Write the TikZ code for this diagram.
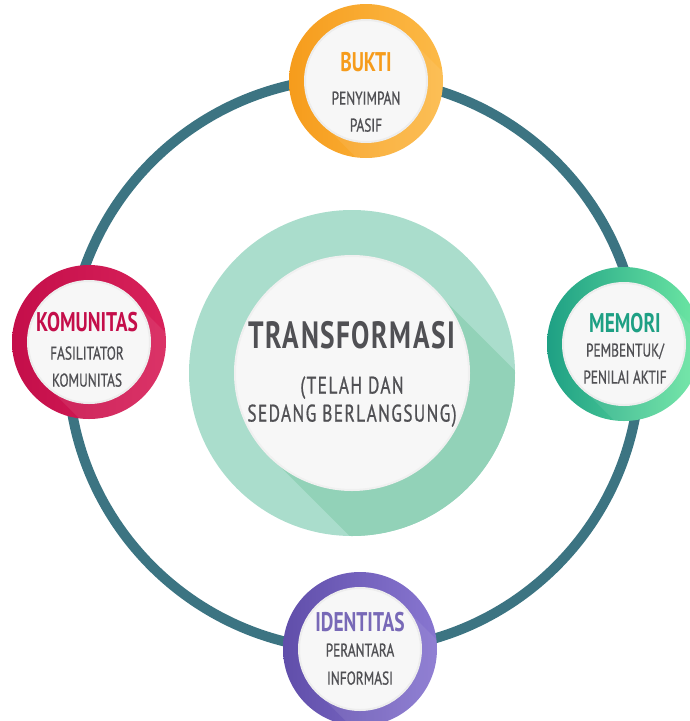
\documentclass[tikz,border=0pt]{standalone}
\usepackage{fontspec}
\setmainfont[FakeStretch=0.72]{PT Sans}
\usetikzlibrary{calc}
\definecolor{ringteal}{RGB}{60,116,130}
\definecolor{txtgray}{RGB}{80,80,84}
\definecolor{buktiA}{RGB}{246,156,28}
\definecolor{buktiB}{RGB}{252,186,72}
\definecolor{komA}{RGB}{196,14,74}
\definecolor{komB}{RGB}{216,34,90}
\definecolor{memA}{RGB}{30,160,132}
\definecolor{memB}{RGB}{110,232,164}
\definecolor{idA}{RGB}{96,78,170}
\definecolor{idB}{RGB}{136,118,208}
\definecolor{hubgreen}{RGB}{170,221,204}
\definecolor{hubshade}{RGB}{146,210,184}

\begin{document}
\begin{tikzpicture}[x=1pt, y=-1pt,
    orb/.style={circle, inner sep=0pt, minimum size=154pt},
    orbin/.style={circle, inner sep=0pt, minimum size=122pt, fill=white!97!black, draw=black!7, line width=2pt},
    head/.style={inner sep=0pt, text depth=0pt, font=\fontsize{27}{27}\selectfont\bfseries},
    sub/.style={inner sep=0pt, text depth=0pt, text=txtgray, font=\fontsize{18.5}{18.5}\selectfont\addfontfeatures{FakeBold=0.8}},
    big/.style={inner sep=0pt, text depth=0pt, text=txtgray, font=\fontsize{38}{38}\selectfont\bfseries\addfontfeatures{LetterSpace=4}},
    mid/.style={inner sep=0pt, text depth=0pt, text=txtgray, font=\fontsize{24}{24}\selectfont\addfontfeatures{LetterSpace=6,FakeBold=0.8}}]
    \useasboundingbox (0,0) rectangle (689,721);
    \coordinate (o) at (354,364);
    \draw[ringteal, line width=10pt] (o) circle[radius=286];

    \node[circle, inner sep=0pt, minimum size=326pt, fill=hubgreen] (hub) at (352,373) {};
    \begin{scope}
        \clip (hub.center) circle[radius=163];
        \fill[hubshade] ($(hub.center)+(82.7,-82.7)$) -- ++(250,250) -- ($(hub.center)+(-82.7,82.7)+(250,250)$) -- ($(hub.center)+(-82.7,82.7)$) -- cycle;
    \end{scope}
    \node[circle, inner sep=0pt, minimum size=234pt, fill=white!97!black, draw=black!6, line width=2pt] (hubin) at (352,373) {};

    \node[orb, left color=buktiA, right color=buktiB] (bukti) at (366,81) {};
    \node[orb, left color=komA, right color=komB] (komunitas) at (89,342) {};
    \node[orb, left color=memA, right color=memB] (memori) at (624,344) {};
    \node[orb, left color=idA, right color=idB] (identitas) at (360,649) {};
    \foreach \n in {bukti,komunitas,memori,identitas} {
        \begin{scope}
            \clip (\n.center) circle[radius=77];
            \fill[white, opacity=0.08] ($(\n.center)+(43,-43)$) -- ++(120,120) -- ($(\n.center)+(-43,43)+(120,120)$) -- ($(\n.center)+(-43,43)$) -- cycle;
        \end{scope}
        \node[orbin] (\n-in) at (\n.center) {};
    }

    \node[big] (t1) at (352,335) {TRANSFORMASI};
    \node[mid] (t2) at (352,385) {(TELAH DAN};
    \node[mid] (t3) at (352,413) {SEDANG BERLANGSUNG)};

    \node[head, text=buktiA] (h1) at (366,62) {BUKTI};
    \node[sub] (s1a) at (366,98) {PENYIMPAN};
    \node[sub] (s1b) at (366,125) {PASIF};

    \node[head, text=komA] (h2) at (87,322) {KOMUNITAS};
    \node[sub] (s2a) at (87,353) {FASILITATOR};
    \node[sub] (s2b) at (87,380) {KOMUNITAS};

    \node[head, text=memA] (h3) at (625,323) {MEMORI};
    \node[sub] (s3a) at (625,350) {PEMBENTUK/};
    \node[sub] (s3b) at (625,377) {PENILAI AKTIF};

    \node[head, text=idA!85!white] (h4) at (360,622) {IDENTITAS};
    \node[sub] (s4a) at (360,650) {PERANTARA};
    \node[sub] (s4b) at (360,678) {INFORMASI};
\end{tikzpicture}
\end{document}
